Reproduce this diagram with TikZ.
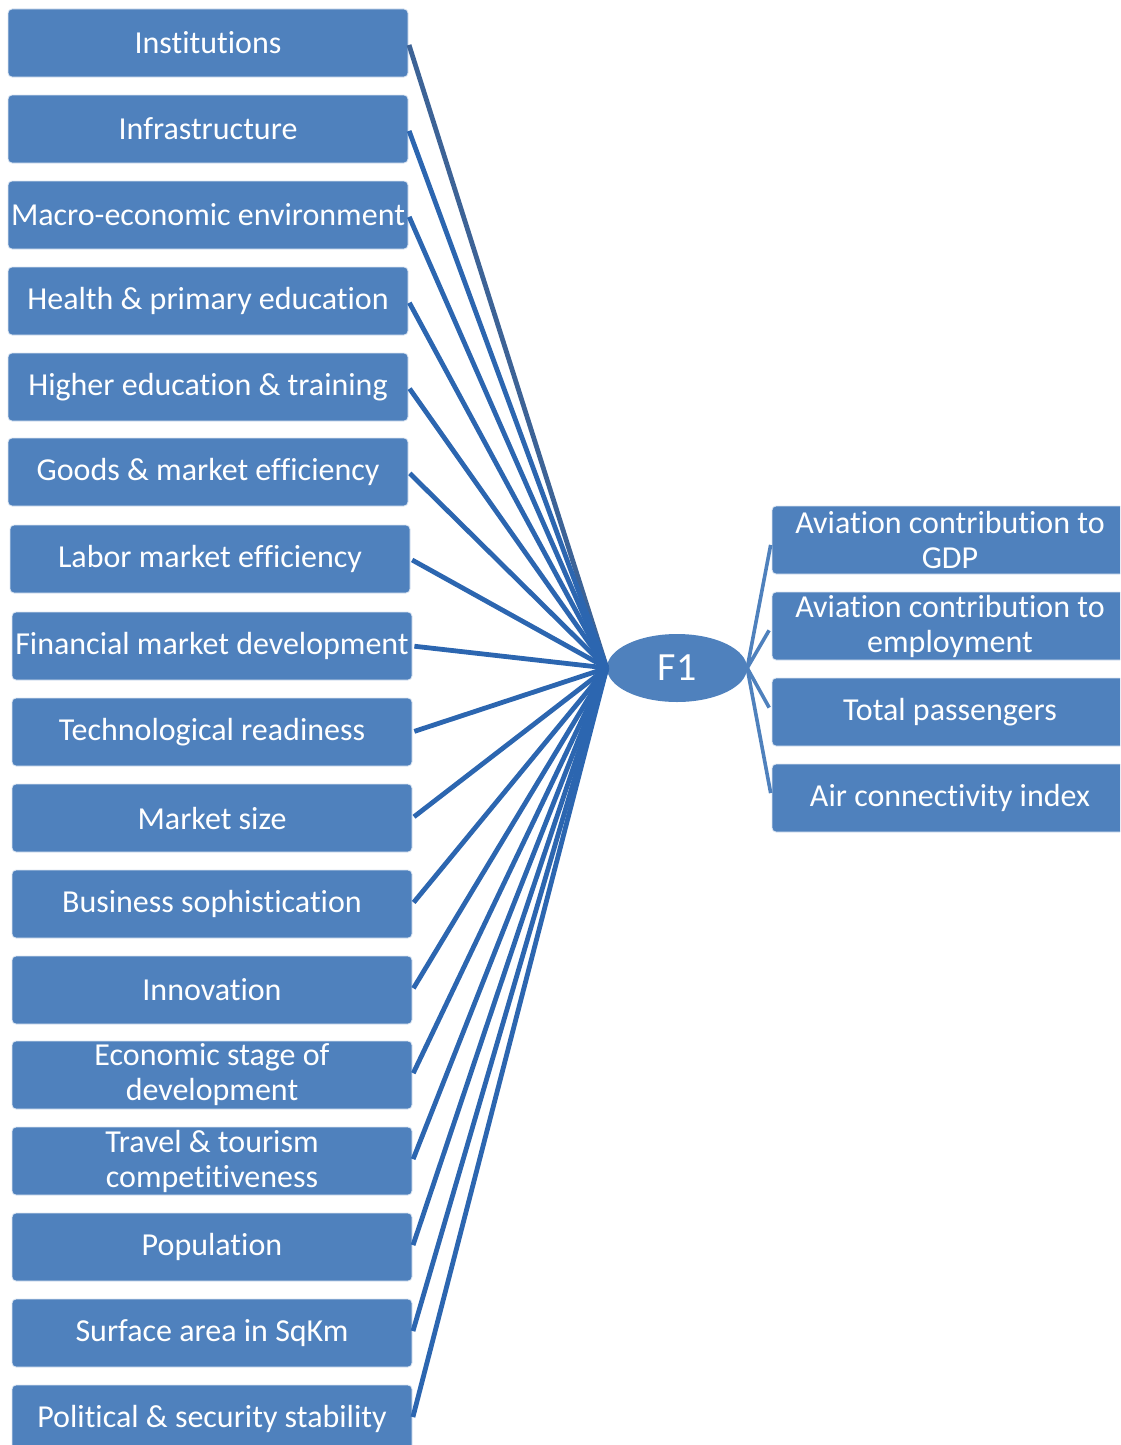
\documentclass[tikz,border=0pt]{standalone}
\usepackage{fontspec}
\setmainfont{Carlito}[Ligatures=NoCommon]
\usetikzlibrary{shapes.geometric}
\definecolor{boxblue}{HTML}{4F81BD}
\definecolor{linkblue}{HTML}{2C66B0}
\definecolor{darklink}{HTML}{3D6396}
\begin{document}
\begin{tikzpicture}[x=1pt,y=-1pt,
	pillar/.style={draw=white!80!boxblue, line width=0.8pt, fill=boxblue, rounded corners=4pt,
		minimum width=400pt, minimum height=68pt, inner sep=0pt, text=white, align=center,
		font=\fontsize{32}{35}\selectfont},
	output/.style={pillar, minimum width=356pt},
	factor/.style={ellipse, fill=boxblue, minimum width=140pt, minimum height=68pt, inner sep=0pt,
		text=white, font=\fontsize{40}{42}\selectfont},
	link/.style={linkblue, line width=4.8pt, shorten <=2pt},
	outlink/.style={boxblue, line width=3.6pt, shorten >=5pt}]
	
	\clip (0,0) rectangle (1120,1445);
	
	%Pillars on the left
	\node (inst) at (208,43) [pillar]{Institutions};
	\node (infra) at (208,129) [pillar]{Infrastructure};
	\node (macro) at (208,215) [pillar]{Macro-economic environment};
	\node (health) at (208,301) [pillar]{Health \& primary education};
	\node (higher) at (208,387) [pillar]{Higher education \& training};
	\node (goods) at (208,472) [pillar]{Goods \& market efficiency};
	\node (labor) at (210,559) [pillar]{Labor market efficiency};
	\node (financial) at (212,646) [pillar]{Financial market development};
	\node (tech) at (212,732) [pillar]{Technological readiness};
	\node (market) at (212,818) [pillar]{Market size};
	\node (business) at (212,904) [pillar]{Business sophistication};
	\node (innov) at (212,990) [pillar]{Innovation};
	\node (stage) at (212,1075) [pillar]{Economic stage of\\development};
	\node (tourism) at (212,1161) [pillar]{Travel \& tourism\\competitiveness};
	\node (popul) at (212,1247) [pillar]{Population};
	\node (surface) at (212,1333) [pillar]{Surface area in SqKm};
	\node (political) at (212,1419) [pillar]{Political \& security stability};
	
	%Factor
	\node (F1) at (677,668) [factor]{F1};
	
	%Outputs on the right
	\node (gdp) at (950,540) [output]{Aviation contribution to\\GDP};
	\node (employ) at (950,626) [output]{Aviation contribution to\\employment};
	\node (pass) at (950,712) [output]{Total passengers};
	\node (connect) at (950,798) [output]{Air connectivity index};
	
	%Links into the factor
	\draw [link, darklink] (inst.east) -- (F1.west);
	\draw [link] (infra.east) -- (F1.west);
	\draw [link] (macro.east) -- (F1.west);
	\draw [link] (health.east) -- (F1.west);
	\draw [link] (higher.east) -- (F1.west);
	\draw [link] (goods.east) -- (F1.west);
	\draw [link] (labor.east) -- (F1.west);
	\draw [link] (financial.east) -- (F1.west);
	\draw [link] (tech.east) -- (F1.west);
	\draw [link] (market.east) -- (F1.west);
	\draw [link] (business.east) -- (F1.west);
	\draw [link] (innov.east) -- (F1.west);
	\draw [link] (stage.east) -- (F1.west);
	\draw [link] (tourism.east) -- (F1.west);
	\draw [link] (popul.east) -- (F1.west);
	\draw [link] (surface.east) -- (F1.west);
	\draw [link] (political.east) -- (F1.west);
	
	%Links out of the factor
	\draw [outlink] (F1.east) -- (gdp.west);
	\draw [outlink] (F1.east) -- (employ.west);
	\draw [outlink] (F1.east) -- (pass.west);
	\draw [outlink] (F1.east) -- (connect.west);
	
\end{tikzpicture}
\end{document}
